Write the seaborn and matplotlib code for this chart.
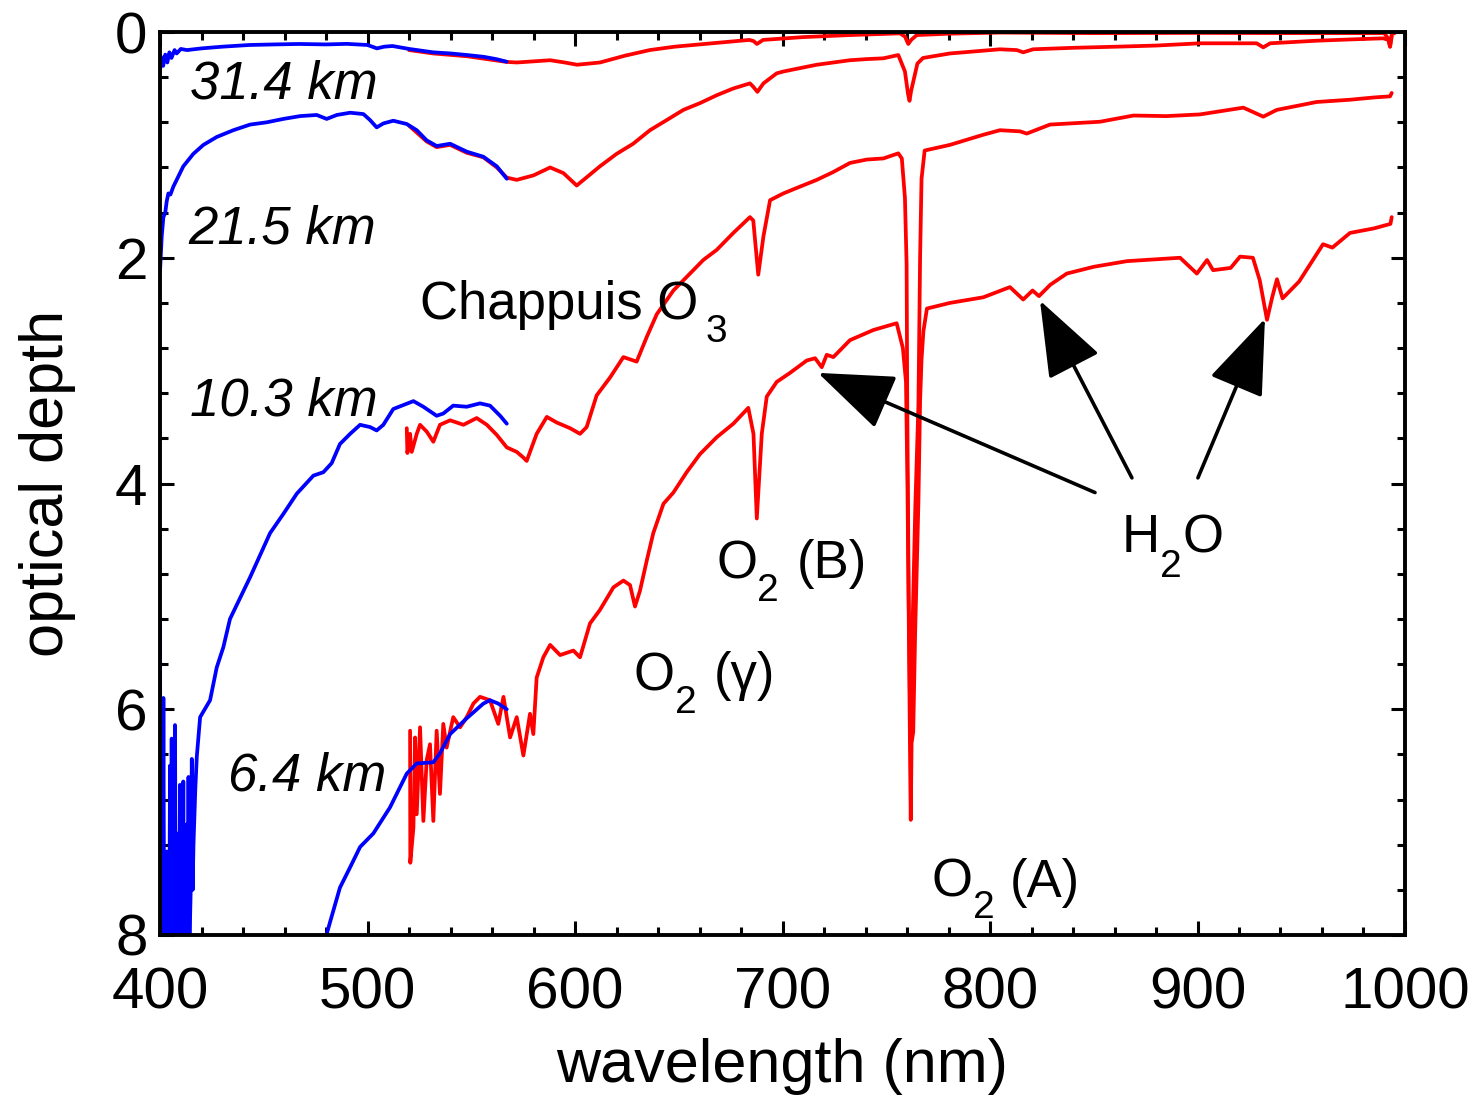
import numpy as np
import pandas as pd
import matplotlib
matplotlib.use("Agg")
import matplotlib.pyplot as plt
from matplotlib.ticker import MultipleLocator
import seaborn as sns

# ---- data: (wavelength nm, optical depth) ----

# 31.4 km
wl_314_blue = [400.0, 400.5, 401.5, 402.5, 403.5, 404.5, 405.5, 407, 408, 410, 413, 420, 430,
               443, 455, 467, 480, 490, 500, 504.5, 508, 512, 520, 531.6, 540, 548, 556, 562, 567]
od_314_blue = [0.34, 0.22, 0.30, 0.20, 0.27, 0.18, 0.23, 0.16, 0.19, 0.15, 0.16, 0.145, 0.13,
               0.115, 0.11, 0.106, 0.11, 0.105, 0.115, 0.145, 0.13, 0.124, 0.15, 0.18, 0.19, 0.204, 0.22, 0.24, 0.263]
wl_314_red = [520, 531.6, 548, 567, 572, 580, 588, 595, 601, 612, 624, 636, 648, 660, 684, 686, 687.7, 690.6,
              710, 732.5, 756.6, 759, 760.6, 762, 764.7, 780, 805, 850, 900, 950, 990, 992, 992.8, 993.6, 995]
od_314_red = [0.16, 0.19, 0.215, 0.265, 0.27, 0.26, 0.25, 0.27, 0.29, 0.27, 0.21, 0.16, 0.13, 0.11, 0.07, 0.08, 0.106, 0.07,
              0.045, 0.027, 0.012, 0.04, 0.106, 0.07, 0.027, 0.015, 0.005, 0.01, 0.008, 0.01, 0.01, 0.06, 0.13, 0.02, 0.01]

# 21.5 km
wl_215_blue = [400.0, 400.8, 401.6, 402.5, 403.2, 404, 405, 406.4, 408, 411.2, 416, 420.9, 427.3, 435.3,
               443.4, 451.4, 459.4, 467.5, 475.5, 480.3, 485.2, 491.6, 498, 501.2, 504.4, 507.6, 512.4,
               518.9, 523.7, 528.5, 533.3, 539.8, 547.8, 555.8, 562.3, 567.1]
od_215_blue = [2.11, 1.81, 1.64, 1.60, 1.50, 1.43, 1.44, 1.37, 1.31, 1.19, 1.08, 1.0, 0.93, 0.87,
               0.82, 0.80, 0.77, 0.745, 0.735, 0.77, 0.735, 0.715, 0.727, 0.78, 0.845, 0.81, 0.786,
               0.815, 0.87, 0.96, 1.01, 0.99, 1.06, 1.105, 1.19, 1.30]
wl_215_red = [520, 528.5, 533.3, 539.8, 547.8, 555.8, 562.3, 567.1, 571.9, 580, 588, 594.4, 600.8, 612,
              620, 628, 636.1, 644.2, 652.2, 660.2, 668.3, 676.3, 684.3, 685.9, 687.9, 690.8, 697.2,
              700.4, 708.4, 716.5, 724.5, 732.5, 740.6, 748.6, 755.8,
              759, 760.5, 761.2, 762, 763.5, 765, 767.7, 780.7, 804.8, 812.9, 816, 820.8, 840, 861, 880,
              901.2, 928.5, 931.7, 935, 957.4, 975, 989.5, 992, 992.8, 993.6]
od_215_red = [0.83, 0.97, 1.02, 1.0, 1.07, 1.11, 1.2, 1.29, 1.31, 1.27, 1.20, 1.25, 1.36, 1.19,
              1.08, 0.99, 0.87, 0.78, 0.69, 0.63, 0.56, 0.50, 0.455, 0.485, 0.53, 0.455, 0.366,
              0.35, 0.32, 0.29, 0.27, 0.25, 0.24, 0.233, 0.204,
              0.35, 0.55, 0.61, 0.52, 0.40, 0.28, 0.23, 0.19, 0.153, 0.16, 0.18, 0.153, 0.14, 0.13, 0.12,
              0.10, 0.10, 0.136, 0.10, 0.077, 0.065, 0.056, 0.07, 0.13, 0.04]

# 10.3 km
wl_103_blue = [400.0, 400.2, 400.8, 401.2, 401.6, 402.0, 402.4, 402.8, 403.2, 403.6, 404.0, 404.4,
               404.8, 405.2, 405.6, 406.0, 406.4, 406.8, 407.2, 407.6, 408.0, 408.4, 408.8, 409.2,
               409.6, 410.0, 410.4, 410.8, 411.2, 411.6, 412.0, 412.4, 412.9, 413.3, 413.7, 414.1,
               414.5, 414.9, 415.3, 415.7, 416.1, 417.0, 417.7, 419.3, 424.1,
               427.3, 430.5, 433.7, 443.4, 453, 459.4, 465.9, 473.9, 478.7, 482.7, 486.7, 491.6,
               496.4, 501.2, 504.4, 507.6, 512.4, 522.1, 526.9, 533.3, 536.5, 541.3, 547.8, 554.2,
               559, 563.9, 567.1]
od_103_blue = [5.2, 8.3, 7.0, 8.3, 5.9, 8.3, 7.6, 8.3, 7.26, 8.3, 7.5, 8.3,
               6.5, 8.3, 6.26, 8.3, 7.4, 8.3, 6.14, 8.3, 7.1, 8.3, 7.3, 8.3,
               6.67, 8.3, 7.02, 8.3, 6.64, 8.3, 7.4, 8.3, 7.02, 8.3, 6.6, 8.3,
               7.82, 7.5, 6.44, 7.6, 7.2, 6.7, 6.42, 6.07, 5.92,
               5.63, 5.45, 5.2, 4.83, 4.44, 4.27, 4.09, 3.93, 3.90, 3.82, 3.65, 3.56,
               3.48, 3.50, 3.53, 3.48, 3.34, 3.27, 3.32, 3.40, 3.38, 3.31, 3.32, 3.29,
               3.31, 3.40, 3.47]
wl_103_red = [518.9, 519.2, 520.5, 521.3, 523.7, 525.3, 528.5, 531.7, 534.9, 539.8, 546.2, 552.6,
              557.5, 562.3, 567.1, 571.9, 575.1, 576.7, 581.5, 586.4, 591.2, 597.6, 602.4, 605.6,
              610.4, 616.9, 623.3, 628.1, 629.7, 634.6, 639.4, 647.4, 655.4, 661.8, 668.3, 676.3,
              684.3, 685.9, 688.3, 690.8, 694, 700.4, 708.4, 716.5, 724.5, 732.5, 740.6, 748.6,
              755.8, 757.5, 759, 759.8, 760.1, 760.8, 761.6,
              762.5, 764, 765.5, 766.3, 767, 768.5, 780.7, 796.8, 804.8, 814.5, 817.7, 828.9, 853,
              869.1, 885, 901.2, 922.1, 931.7, 938.2, 957.4, 973.5, 985, 992.8, 993.6]
od_103_red = [3.51, 3.73, 3.56, 3.72, 3.56, 3.48, 3.54, 3.63, 3.48, 3.44, 3.48, 3.42,
              3.48, 3.57, 3.68, 3.72, 3.77, 3.80, 3.56, 3.41, 3.46, 3.51, 3.56, 3.50,
              3.22, 3.06, 2.88, 2.91, 2.92, 2.70, 2.5, 2.29, 2.14, 2.02, 1.93, 1.78,
              1.64, 1.67, 2.15, 1.81, 1.49, 1.43, 1.37, 1.31, 1.24, 1.16, 1.13, 1.12,
              1.075, 1.12, 1.47, 2.06, 3.25, 5.0, 6.2,
              5.4, 4.2, 3.3, 2.0, 1.3, 1.05, 1.00, 0.91, 0.87, 0.88, 0.90, 0.82, 0.795,
              0.74, 0.745, 0.73, 0.67, 0.75, 0.69, 0.62, 0.60, 0.58, 0.57, 0.54]

# 6.4 km
wl_64_blue = [478.0, 480.3, 486.7, 491.6, 496.4, 502.8, 510.8, 518.9, 523.7, 531.7, 534.9, 539.8,
              547.8, 555.8, 559, 563, 567.1]
od_64_blue = [8.3, 7.99, 7.58, 7.40, 7.22, 7.10, 6.87, 6.57, 6.48, 6.47, 6.39, 6.22,
              6.08, 5.95, 5.92, 5.95, 6.0]
wl_64_red = [520.5, 520.6, 522.1, 522.9, 523.7, 525.3, 526.9, 528.5, 530.1, 531.7, 533.3, 534.9,
             536.5, 538.1, 541.3, 544.6, 547.8, 551, 554.2, 559, 563, 565.5, 568.7, 571.9, 575.1,
             578.3, 579.9, 581.5, 584.7, 588, 592.8, 599.2, 602.4, 607.2, 612, 618.5, 623.3, 626.5,
             628.9, 631.3, 634.6, 637.7, 642.6, 647.4, 653.8, 660.2, 668.3, 676.3, 683.5, 686, 687.6,
             690, 692.4, 697.2, 703.6, 711.7, 715.7, 718.9, 721.3, 724.5, 732.5, 743.8, 755, 758,
             759.5, 760.2, 761, 761.5, 761.8, 762.2, 763, 763.9, 765.5, 766.3, 767, 767.9, 769.6,
             780.7, 796.8, 809.6, 816, 820.5, 823.6, 829, 837, 850, 866, 891.6, 899.7, 904.6, 907.5,
             916, 920.5, 926.7, 930, 933.5, 936, 938.3, 941, 949, 960.5, 965, 973.5, 985, 993, 993.6]
od_64_red = [6.19, 7.36, 7.05, 6.25, 6.93, 6.16, 6.99, 6.45, 6.31, 6.99, 6.19, 6.75,
             6.13, 6.34, 6.07, 6.16, 6.07, 5.95, 5.89, 5.92, 6.13, 5.89, 6.25, 6.07, 6.41,
             6.04, 6.22, 5.72, 5.54, 5.43, 5.52, 5.48, 5.54, 5.24, 5.12, 4.92, 4.86, 4.90,
             5.09, 4.95, 4.68, 4.44, 4.18, 4.08, 3.90, 3.74, 3.59, 3.47, 3.33, 3.56, 4.31,
             3.56, 3.23, 3.10, 3.02, 2.91, 2.89, 2.97, 2.86, 2.88, 2.73, 2.64, 2.58, 2.8,
             3.1, 4.0, 5.5, 6.5, 6.98, 6.3, 6.2, 5.34, 4.16, 3.27, 2.9, 2.65, 2.45,
             2.40, 2.35, 2.26, 2.37, 2.29, 2.34, 2.24, 2.14, 2.08, 2.03, 2.0, 2.14, 2.02, 2.11,
             2.09, 1.99, 2.0, 2.2, 2.55, 2.35, 2.19, 2.36, 2.21, 1.88, 1.91, 1.78, 1.74, 1.70, 1.64]

altitudes = ["31.4 km", "21.5 km", "10.3 km", "6.4 km"]
red_curves = [(wl_314_red, od_314_red), (wl_215_red, od_215_red),
              (wl_103_red, od_103_red), (wl_64_red, od_64_red)]
blue_curves = [(wl_314_blue, od_314_blue), (wl_215_blue, od_215_blue),
               (wl_103_blue, od_103_blue), (wl_64_blue, od_64_blue)]

# ---- plot ----
sns.set_theme(style="ticks")
plt.rcParams['font.family'] = ['Liberation Sans', 'DejaVu Sans']
plt.rcParams.update({"text.color": "black", "axes.labelcolor": "black",
                     "xtick.color": "black", "ytick.color": "black"})

fig = plt.figure(figsize=(14.78, 11), dpi=100)
ax = fig.add_axes([0.1083, 0.15, 0.8423, 0.8209])

# red spectra first, the blue ones on top
for alt, (w, d) in zip(altitudes, red_curves):
    df = pd.DataFrame({"wavelength": w, "od": d})
    sns.lineplot(data=df, x="wavelength", y="od", ax=ax, color="#ff0000", lw=2.7,
                 estimator=None, sort=False)
for alt, (w, d) in zip(altitudes, blue_curves):
    df = pd.DataFrame({"wavelength": w, "od": d})
    sns.lineplot(data=df, x="wavelength", y="od", ax=ax, color="#0000ff", lw=2.7,
                 estimator=None, sort=False)

ax.set_xlim(400, 1000)
ax.set_ylim(8, 0)
ax.xaxis.set_major_locator(MultipleLocator(100))
ax.xaxis.set_minor_locator(MultipleLocator(20))
ax.yaxis.set_major_locator(MultipleLocator(2))
ax.yaxis.set_minor_locator(MultipleLocator(0.4))
ax.tick_params(which="both", direction="in", top=True, right=True, width=2.2, colors="black")
ax.tick_params(which="major", length=10, labelsize=42)
ax.tick_params(which="minor", length=6)
ax.tick_params(axis="x", which="major", pad=23)
ax.tick_params(axis="y", which="major", pad=9)
for s in ax.spines.values():
    s.set_linewidth(2.8)
    s.set_color("black")

ax.set_xlabel("wavelength (nm)", fontsize=44, labelpad=12)
ax.set_ylabel("optical depth", fontsize=44, labelpad=28)

# altitude labels
alt_pos = [(414.5, 0.59), (413.5, 1.87), (414.5, 3.40), (432.8, 6.72)]
for alt, (x, y) in zip(altitudes, alt_pos):
    ax.text(x, y, alt, fontsize=38, style="italic", va="baseline", ha="left")

# band labels: (main text, x, baseline) + (subscript, x, baseline) + (rest, x)
big, small = 38, 28
ax.text(525.3, 2.54, "Chappuis O", fontsize=big, va="baseline")
ax.text(663.1, 2.75, "3", fontsize=small, va="baseline")

bands = [("(B)", 668.0, 4.84, 687.7, 5.04, 707.0),
         ("(\u03b3)", 628.4, 5.83, 648.2, 6.03, 667.0),
         ("(A)", 772.0, 7.66, 791.8, 7.85, 809.6)]
for rest, xo, yo, xs, ys, xr in bands:
    ax.text(xo, yo, "O", fontsize=big, va="baseline")
    ax.text(xs, ys, "2", fontsize=small, va="baseline")
    ax.text(xr, yo, rest, fontsize=big, va="baseline")

ax.text(863.6, 4.61, "H", fontsize=big, va="baseline")
ax.text(881.9, 4.83, "2", fontsize=small, va="baseline")
ax.text(893.0, 4.61, "O", fontsize=big, va="baseline")

# H2O arrows
arrow_tails = [(850.6, 4.08), (868.4, 3.95), (900.2, 3.95)]
arrow_tips = [(717.1, 3.02), (824.1, 2.38), (932.5, 2.54)]
for tail, tip in zip(arrow_tails, arrow_tips):
    ax.annotate("", xy=tip, xytext=tail,
                arrowprops=dict(arrowstyle="-|>,head_length=2.4,head_width=0.9",
                                mutation_scale=20, lw=2.6, color="black",
                                shrinkA=0, shrinkB=0))

fig.savefig("out.png", dpi=100)
